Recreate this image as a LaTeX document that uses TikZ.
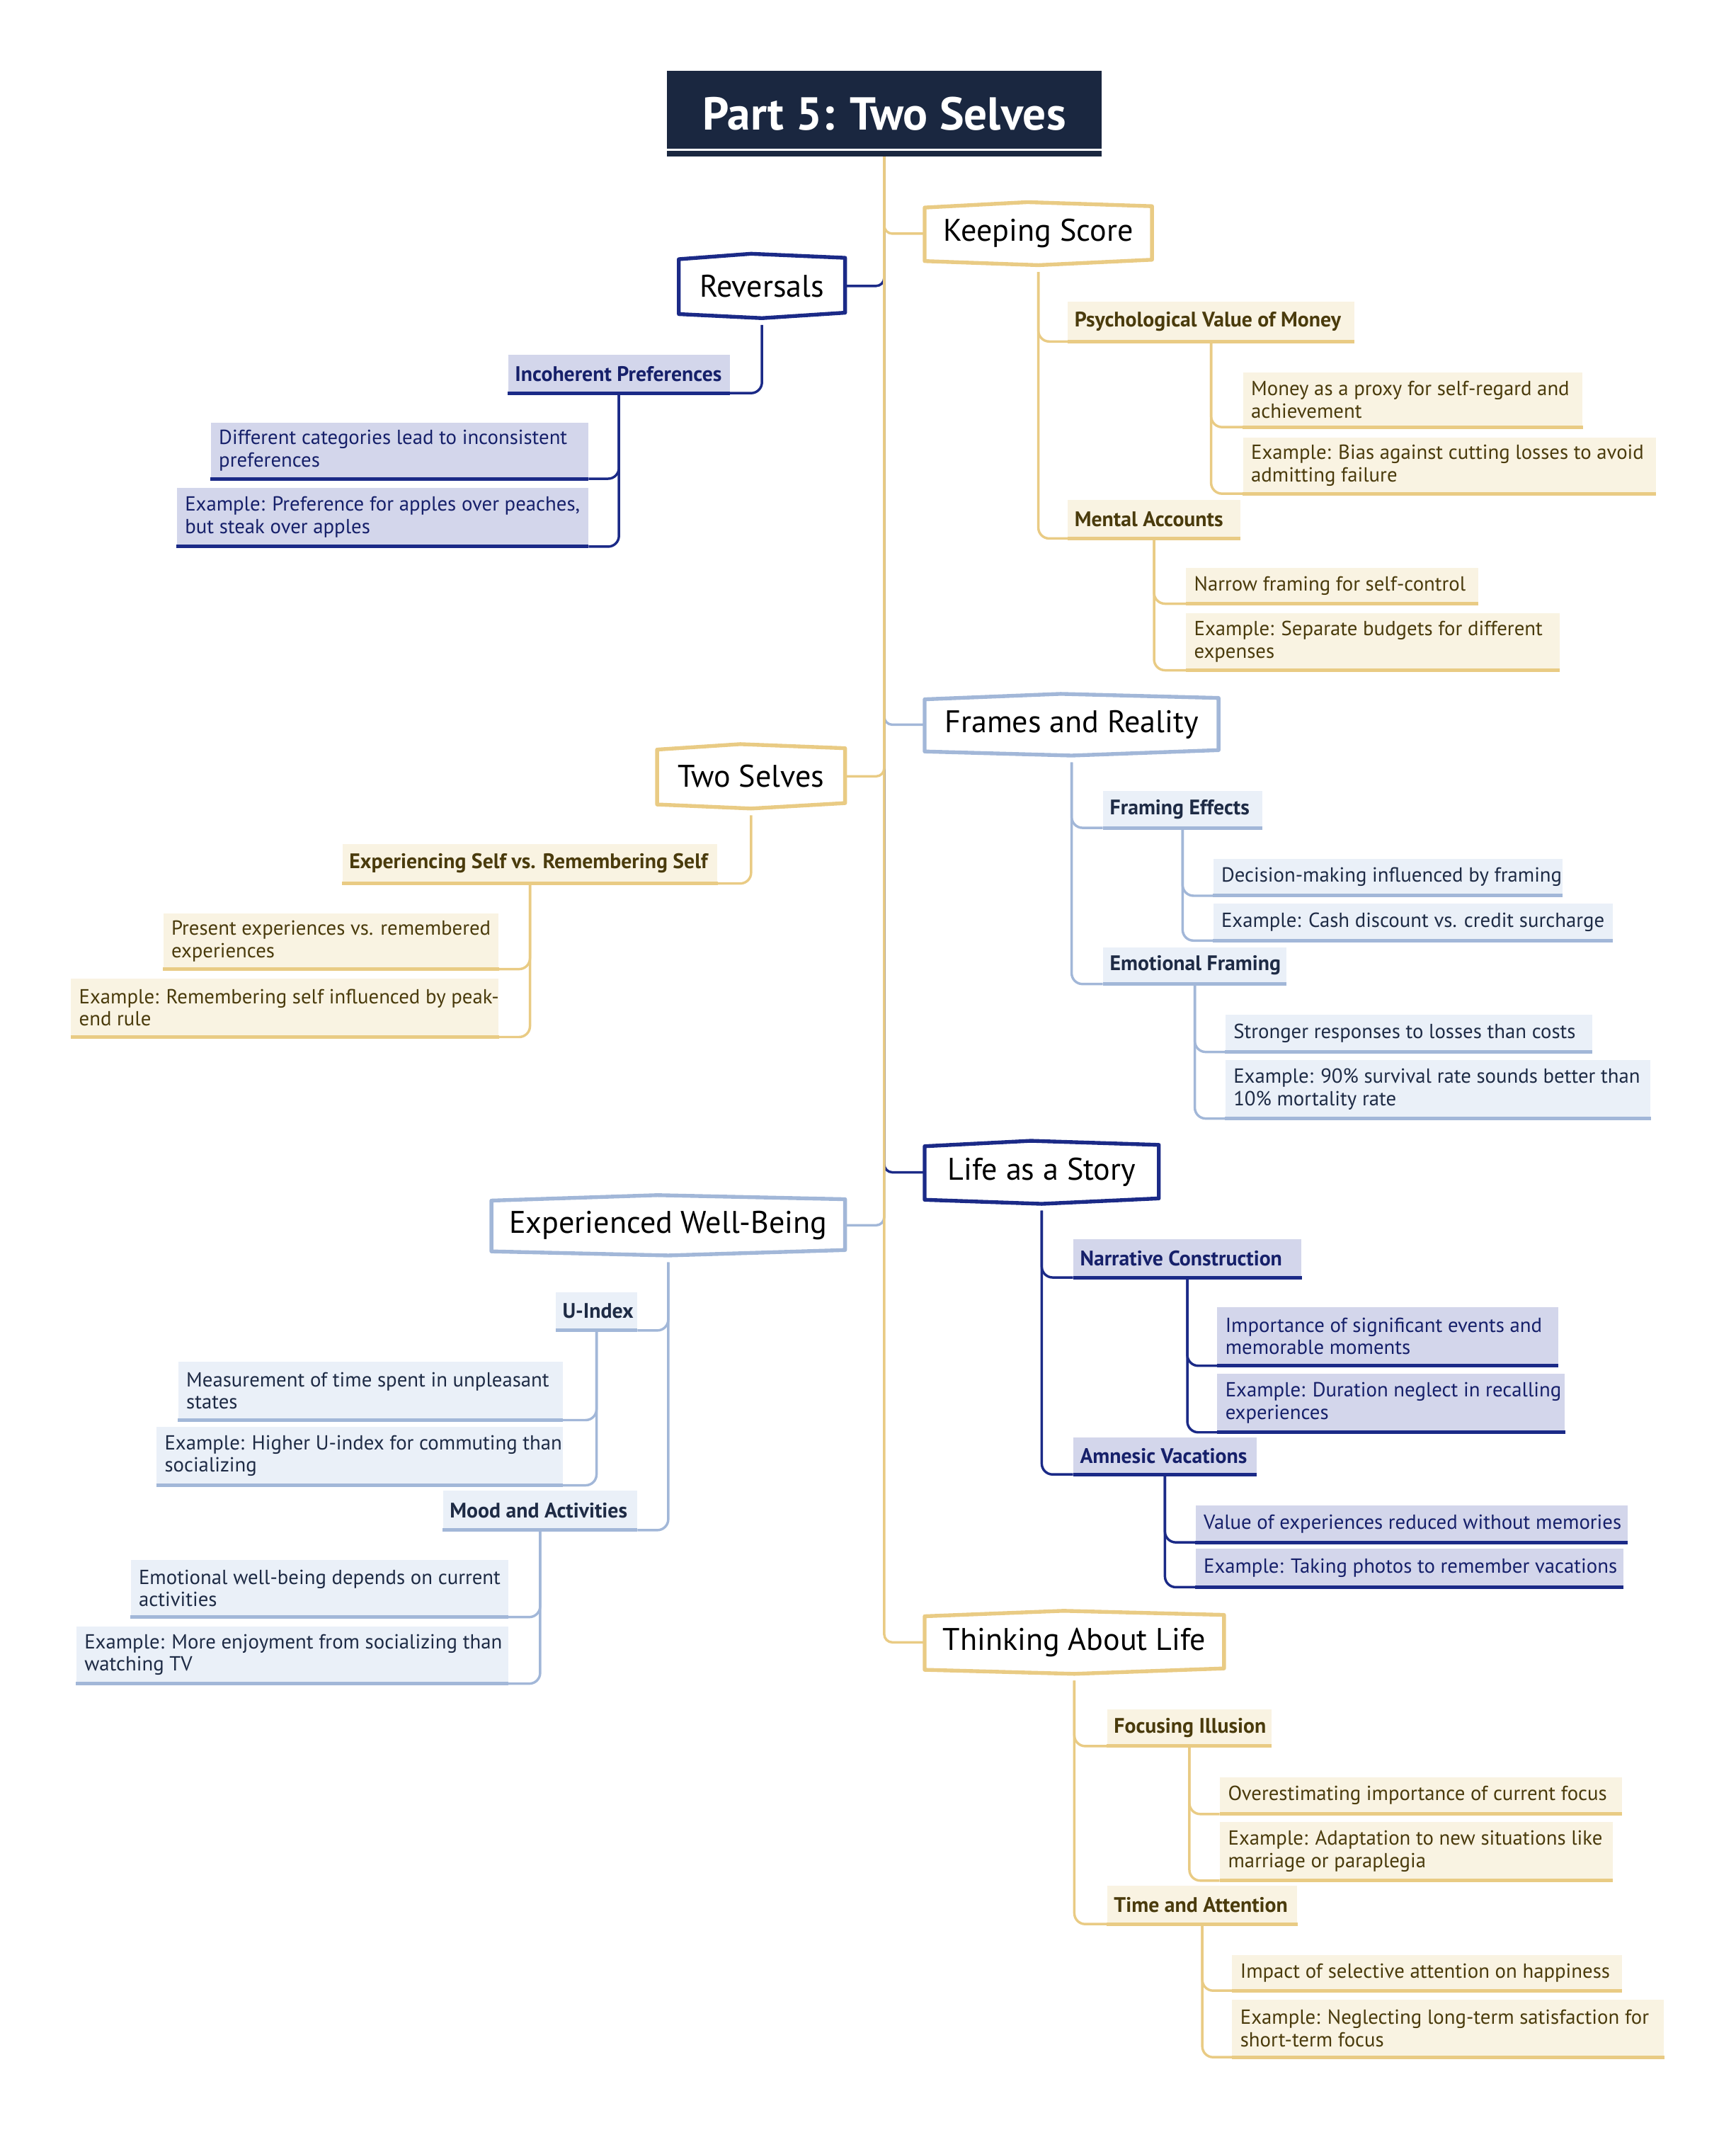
\documentclass[tikz,border=0pt]{standalone}
\usepackage{fontspec}
\setmainfont{PT Sans}
\usetikzlibrary{calc}
\pgfdeclarelayer{bg}
\pgfsetlayers{bg,main}
\definecolor{gline}{HTML}{E9CB84}
\definecolor{gfill}{HTML}{F9F3E2}
\definecolor{gtext}{HTML}{4A3B0C}
\definecolor{bline}{HTML}{A2B7D8}
\definecolor{bfill}{HTML}{EAF0F8}
\definecolor{btext}{HTML}{1E2B45}
\definecolor{nline}{HTML}{1B2A87}
\definecolor{nfill}{HTML}{D3D6EB}
\definecolor{ntext}{HTML}{16206A}
\definecolor{titlefill}{HTML}{1A2740}
\newcommand{\leaffont}{\fontsize{15}{16.5}\selectfont}
\newcommand{\ltwofont}{\fontsize{15.5}{17}\selectfont\bfseries}
\newcommand{\lonefont}{\fontsize{23}{26}\selectfont}
% leaf box: name, colour key, x, y (top-left), w, h, text
\newcommand{\leafbox}[7]{%
  \node[lbox=#2, minimum width=#5, minimum height=#6] (#1) at (#3,#4) {};
  \draw[ulin=#2] (#1.south west) -- (#1.south east);
  \node[ltext=#2] (#1-t) at (#1.west) {#7};}
\newcommand{\subbox}[7]{%
  \node[lbox=#2, minimum width=#5, minimum height=#6] (#1) at (#3,#4) {};
  \draw[ulin=#2] (#1.south west) -- (#1.south east);
  \node[ktext=#2] (#1-t) at (#1.west) {#7};}
\newcommand{\hexline}[2]{%
  \draw[hexl=#2] ($(#1.north west)+(0,1)$) -- ($(#1.north)+(-8,-3)$) -- ($(#1.north east)+(0,0)$)
    -- ($(#1.south east)+(0,-1)$) -- ($(#1.south)+(0,3)$) -- ($(#1.south west)+(0,0)$) -- cycle;}
\begin{document}
\begin{tikzpicture}[x=1pt,y=-1pt,
  lbox/.style={fill=#1fill, draw=none, anchor=north west, inner sep=0pt},
  ulin/.style={draw=#1line, line width=2.6pt},
  ltext/.style={anchor=west, inner xsep=6pt, inner ysep=0pt, align=left, text=#1text, font=\leaffont},
  ktext/.style={anchor=west, inner xsep=5pt, inner ysep=0pt, align=left, text=#1text, font=\ltwofont},
  lone/.style={fill=white, inner sep=0pt, text=black, font=\lonefont},
  hexl/.style={draw=#1line, line width=2.8pt, line join=round},
  conn/.style={draw=#1line, line width=1.8pt, rounded corners=8pt},
  trunk/.style={draw=#1line, line width=1.8pt, rounded corners=6pt}]
\useasboundingbox (0,0) rectangle (1278,1568);

% ---------- root ----------
\node[fill=titlefill, text=white, font=\fontsize{34}{38}\selectfont\bfseries,
      minimum width=320, minimum height=63, inner sep=0pt] (root) at (651,83.5) {Part 5: Two Selves};
\draw[white, line width=1.4pt] ($(root.south west)+(0,-5)$) -- ($(root.south east)+(0,-5)$);

% ---------- level 1 ----------
\node[lone, minimum width=167, minimum height=40] (ks) at (764.5,172) {Keeping Score};
\node[lone, minimum width=216, minimum height=39] (fr) at (789,533.5) {Frames and Reality};
\node[lone, minimum width=172, minimum height=40] (ls) at (767,863) {Life as a Story};
\node[lone, minimum width=220, minimum height=40] (tl) at (791,1209) {Thinking About Life};
\node[lone, minimum width=122, minimum height=41] (rev) at (561,210.5) {Reversals};
\node[lone, minimum width=138, minimum height=41] (ts) at (553,571.5) {Two Selves};
\node[lone, minimum width=260, minimum height=38] (ew) at (492,902) {Experienced Well-Being};
\hexline{ks}{g}
\hexline{fr}{b}
\hexline{ls}{n}
\hexline{tl}{g}
\hexline{rev}{n}
\hexline{ts}{g}
\hexline{ew}{b}

% ---------- Keeping Score ----------
\subbox{psy}{g}{786}{222}{211}{29}{Psychological Value of Money}
\leafbox{k1}{g}{915}{274}{250}{40}{Money as a proxy for self-regard and\\achievement}
\leafbox{k2}{g}{915}{322}{304}{41}{Example: Bias against cutting losses to avoid\\admitting failure}
\subbox{ma}{g}{786}{368}{127}{28}{Mental Accounts}
\leafbox{k3}{g}{873}{418}{215}{26}{Narrow framing for self-control}
\leafbox{k4}{g}{873}{451}{275}{42}{Example: Separate budgets for different\\expenses}

% ---------- Frames and Reality ----------
\subbox{fe}{b}{812}{582}{117}{27}{Framing Effects}
\leafbox{f1}{b}{893}{632}{257}{27}{Decision-making influenced by framing}
\leafbox{f2}{b}{893}{665}{294}{27}{Example: Cash discount vs. credit surcharge}
\subbox{ef}{b}{812}{697}{135}{27}{Emotional Framing}
\leafbox{f3}{b}{902}{747}{270}{27}{Stronger responses to losses than costs}
\leafbox{f4}{b}{902}{780}{313}{43}{Example: 90\% survival rate sounds better than\\10\% mortality rate}

% ---------- Life as a Story ----------
\subbox{nc}{n}{790}{912}{168}{28}{Narrative Construction}
\leafbox{s1}{n}{896}{962}{251}{43}{Importance of significant events and\\memorable moments}
\leafbox{s2}{n}{896}{1011}{256}{43}{Example: Duration neglect in recalling\\experiences}
\subbox{av}{n}{790}{1058}{135}{27}{Amnesic Vacations}
\leafbox{s3}{n}{880}{1108}{318}{27}{Value of experiences reduced without memories}
\leafbox{s4}{n}{880}{1140}{315}{28}{Example: Taking photos to remember vacations}

% ---------- Thinking About Life ----------
\subbox{fi}{g}{815}{1258}{121}{27}{Focusing Illusion}
\leafbox{t1}{g}{898}{1308}{296}{27}{Overestimating importance of current focus}
\leafbox{t2}{g}{898}{1341}{289}{43}{Example: Adaptation to new situations like\\marriage or paraplegia}
\subbox{ta}{g}{815}{1388}{140}{28}{Time and Attention}
\leafbox{t3}{g}{907}{1439}{287}{26}{Impact of selective attention on happiness}
\leafbox{t4}{g}{907}{1472}{318}{42}{Example: Neglecting long-term satisfaction for\\short-term focus}

% ---------- Reversals ----------
\subbox{ip}{n}{374}{261}{163}{28}{Incoherent Preferences}
\leafbox{r1}{n}{155}{311}{278}{41}{Different categories lead to inconsistent\\preferences}
\leafbox{r2}{n}{130}{359}{303}{43}{Example: Preference for apples over peaches,\\but steak over apples}

% ---------- Two Selves ----------
\subbox{es}{g}{252}{621}{276}{29}{Experiencing Self vs. Remembering Self}
\leafbox{e1}{g}{120}{672}{247}{41}{Present experiences vs. remembered\\experiences}
\leafbox{e2}{g}{52}{720}{315}{43}{Example: Remembering self influenced by peak-\\end rule}

% ---------- Experienced Well-Being ----------
\subbox{ui}{b}{409}{951}{60}{28}{U-Index}
\leafbox{u1}{b}{131}{1002}{283}{43}{Measurement of time spent in unpleasant\\states}
\leafbox{u2}{b}{115}{1050}{299}{43}{Example: Higher U-index for commuting than\\socializing}
\subbox{mo}{b}{326}{1097}{143}{29}{Mood and Activities}
\leafbox{u3}{b}{96}{1148}{278}{42}{Emotional well-being depends on current\\activities}
\leafbox{u4}{b}{56}{1197}{318}{42}{Example: More enjoyment from socializing than\\watching TV}

% ---------- connectors ----------
\begin{pgfonlayer}{bg}
  % root to level 1
  \draw[trunk=n] (root.south) |- (rev.east);
  \draw[trunk=b] (root.south) |- (fr.west);
  \draw[trunk=b] (root.south) |- (ew.east);
  \draw[trunk=n] (root.south) |- (ls.west);
  \draw[trunk=g] (root.south) |- (ks.west);
  \draw[trunk=g] (root.south) |- (ts.east);
  \draw[trunk=g] (root.south) |- (tl.west);
  % Keeping Score
  \draw[conn=g] ($(ks.south)+(0,8)$) |- (psy.south west);
  \draw[conn=g] ($(ks.south)+(0,8)$) |- (ma.south west);
  \draw[conn=g] (psy.south) |- (k1.south west);
  \draw[conn=g] (psy.south) |- (k2.south west);
  \draw[conn=g] (ma.south) |- (k3.south west);
  \draw[conn=g] (ma.south) |- (k4.south west);
  % Frames and Reality
  \draw[conn=b] ($(fr.south)+(0,8)$) |- (fe.south west);
  \draw[conn=b] ($(fr.south)+(0,8)$) |- (ef.south west);
  \draw[conn=b] (fe.south) |- (f1.south west);
  \draw[conn=b] (fe.south) |- (f2.south west);
  \draw[conn=b] (ef.south) |- (f3.south west);
  \draw[conn=b] (ef.south) |- (f4.south west);
  % Life as a Story
  \draw[conn=n] ($(ls.south)+(0,8)$) |- (nc.south west);
  \draw[conn=n] ($(ls.south)+(0,8)$) |- (av.south west);
  \draw[conn=n] (nc.south) |- (s1.south west);
  \draw[conn=n] (nc.south) |- (s2.south west);
  \draw[conn=n] (av.south) |- (s3.south west);
  \draw[conn=n] (av.south) |- (s4.south west);
  % Thinking About Life
  \draw[conn=g] ($(tl.south)+(0,8)$) |- (fi.south west);
  \draw[conn=g] ($(tl.south)+(0,8)$) |- (ta.south west);
  \draw[conn=g] (fi.south) |- (t1.south west);
  \draw[conn=g] (fi.south) |- (t2.south west);
  \draw[conn=g] (ta.south) |- (t3.south west);
  \draw[conn=g] (ta.south) |- (t4.south west);
  % Reversals
  \draw[conn=n] ($(rev.south)+(0,8)$) |- (ip.south east);
  \draw[conn=n] (ip.south) |- (r1.south east);
  \draw[conn=n] (ip.south) |- (r2.south east);
  % Two Selves
  \draw[conn=g] ($(ts.south)+(0,8)$) |- (es.south east);
  \draw[conn=g] (es.south) |- (e1.south east);
  \draw[conn=g] (es.south) |- (e2.south east);
  % Experienced Well-Being
  \draw[conn=b] ($(ew.south)+(0,8)$) |- (ui.south east);
  \draw[conn=b] ($(ew.south)+(0,8)$) |- (mo.south east);
  \draw[conn=b] (ui.south) |- (u1.south east);
  \draw[conn=b] (ui.south) |- (u2.south east);
  \draw[conn=b] (mo.south) |- (u3.south east);
  \draw[conn=b] (mo.south) |- (u4.south east);
\end{pgfonlayer}
\end{tikzpicture}
\end{document}
